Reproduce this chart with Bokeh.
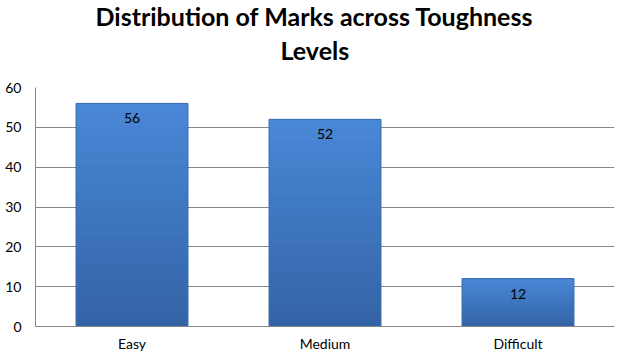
from bokeh.plotting import figure
from bokeh.models import ColumnDataSource, LabelSet, Title, FactorRange, Range1d, SingleIntervalTicker
from bokeh.core.properties import value
from bokeh.embed import file_html
from bokeh.resources import INLINE

categories = ["Easy", "Medium", "Difficult"]
marks = [56, 52, 12]
title_line1 = "Distribution of Marks across Toughness"
title_line2 = "Levels"

FONT = "Lato"

# gradient slices (top light -> bottom dark), relative to each bar's height
N = 30
top_rgb = (74, 136, 216)
bot_rgb = (52, 100, 166)
xs, bottoms, tops, colors = [], [], [], []
for c, v in zip(categories, marks):
    for k in range(N):
        t = (k + 0.5) / N
        r = int(bot_rgb[0] + (top_rgb[0] - bot_rgb[0]) * t)
        g = int(bot_rgb[1] + (top_rgb[1] - bot_rgb[1]) * t)
        b = int(bot_rgb[2] + (top_rgb[2] - bot_rgb[2]) * t)
        xs.append(c)
        bottoms.append(v * k / N)
        tops.append(v)
        colors.append("#%02x%02x%02x" % (r, g, b))

slices = ColumnDataSource(dict(x=xs, bottom=bottoms, top=tops, color=colors))
src = ColumnDataSource(dict(x=categories, y=marks, label=[str(m) for m in marks]))

p = figure(x_range=FactorRange(*categories, range_padding=0), y_range=Range1d(0, 60),
           width=621, height=354, output_backend="svg", toolbar_location=None,
           min_border_left=35, min_border_right=7, min_border_top=87, min_border_bottom=28,
           title=None)
p.outline_line_color = None
p.background_fill_color = "white"
p.border_fill_color = "white"

p.vbar(x="x", bottom="bottom", top="top", width=0.58, fill_color="color",
       line_color=None, source=slices)
p.vbar(x="x", top="y", width=0.58, fill_color=None, line_color="#3a6cae",
       line_width=1, source=src)

labels = LabelSet(x="x", y="y", text="label", source=src, y_offset=-10,
                  text_align="center", text_baseline="top",
                  text_font=value(FONT), text_font_size=value("14px"), text_color="#000000")
p.add_layout(labels)

p.add_layout(Title(text=title_line2, align="left", text_font=FONT, offset=245,
                   text_font_size="25px", text_font_style="bold", text_color="#000000",
                   standoff=46), "above")
p.add_layout(Title(text=title_line1, align="left", text_font=FONT, offset=60,
                   text_font_size="25px", text_font_style="bold", text_color="#000000",
                   standoff=-42), "above")

p.yaxis.ticker = SingleIntervalTicker(interval=10)
p.ygrid.grid_line_color = "#868686"
p.ygrid.grid_line_width = 1
p.xgrid.grid_line_color = None
for ax in (p.xaxis[0], p.yaxis[0]):
    ax.axis_line_color = "#868686"
    ax.major_tick_line_color = None
    ax.minor_tick_line_color = None
    ax.major_tick_out = 0
    ax.major_tick_in = 0
    ax.major_label_text_font = FONT
    ax.major_label_text_font_size = "14px"
    ax.major_label_text_color = "#000000"
p.yaxis.major_label_standoff = 10
p.xaxis.major_label_standoff = 8

open("out.html", "w").write(file_html(p, INLINE))
